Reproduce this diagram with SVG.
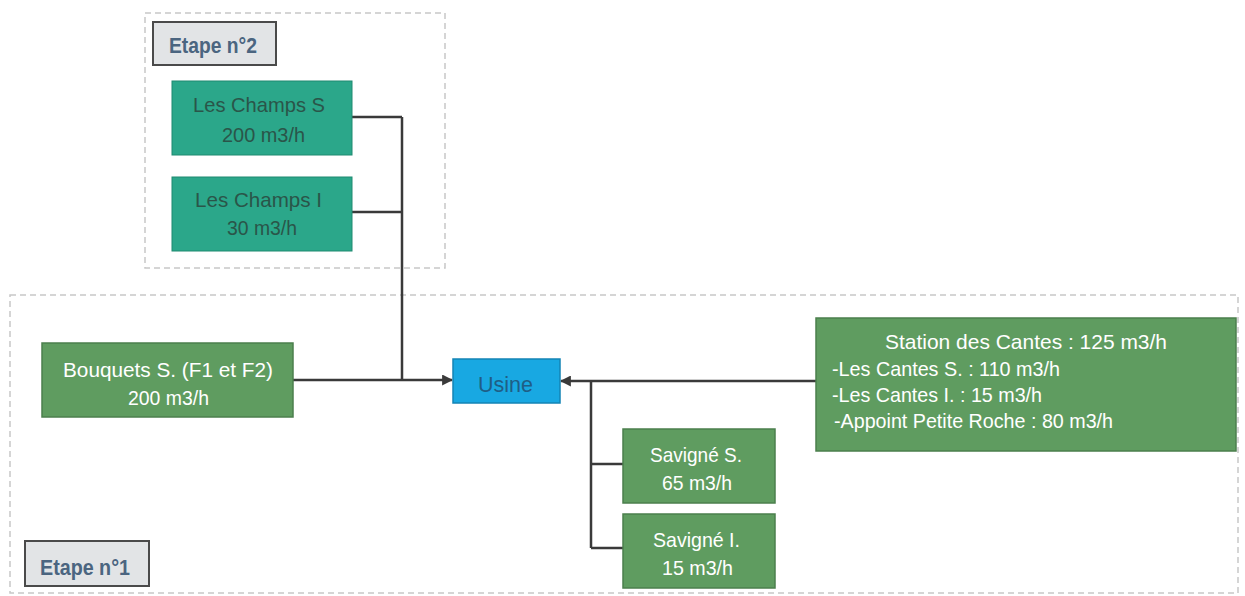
<svg xmlns="http://www.w3.org/2000/svg" width="1245" height="596" viewBox="0 0 1245 596">
<defs>
<marker id="arr" viewBox="0 0 10 10" refX="9" refY="5" markerWidth="11" markerHeight="11" markerUnits="userSpaceOnUse" orient="auto">
<path d="M0,0 L10,5 L0,10 z" fill="#3a3a3a"/>
</marker>
<style>
.zone{fill:none;stroke:#c8c8c8;stroke-width:1.5;stroke-dasharray:6 4}
.lbl{fill:#e2e4e6;stroke:#4a4a4a;stroke-width:2}
.lblt{font-family:"Liberation Sans",Arial,sans-serif;font-weight:bold;font-size:22px;fill:#4b6580}
.teal{fill:#2ba78a;stroke:#1f8a70;stroke-width:1}
.green{fill:#5f9c60;stroke:#4b7f4c;stroke-width:1.5}
.blue{fill:#18a8e2;stroke:#1384b5;stroke-width:1.5}
.tt{font-family:"Liberation Sans",Arial,sans-serif;font-size:21px;fill:#2a5549}
.wt{font-family:"Liberation Sans",Arial,sans-serif;font-size:21px;fill:#ffffff}
.ut{font-family:"Liberation Sans",Arial,sans-serif;font-size:22px;fill:#1f5e86}
.conn{fill:none;stroke:#3a3a3a;stroke-width:2.5}
</style>
</defs>
<rect width="1245" height="596" fill="#ffffff"/>
<g id="zone2">
<rect class="zone" x="145" y="13" width="300" height="255"/>
</g>
<g id="zone1">
<rect class="zone" x="10" y="295" width="1228" height="298"/>
</g>
<g id="connectors">
<path class="conn" d="M352,117 H402 M352,212 H402 M402,117 V380"/>
<path class="conn" d="M293,380 H452" marker-end="url(#arr)"/>
<path class="conn" d="M816,381 H561" marker-end="url(#arr)"/>
<path class="conn" d="M591,381 V548 M591,464 H623 M591,548 H623"/>
</g>
<g id="label-etape2">
<rect class="lbl" x="153" y="22" width="123" height="43"/>
<text class="lblt" x="169" y="53" textLength="88" lengthAdjust="spacingAndGlyphs">Etape n°2</text>
</g>
<g id="label-etape1">
<rect class="lbl" x="25" y="541" width="124" height="45"/>
<text class="lblt" x="40" y="575" textLength="90" lengthAdjust="spacingAndGlyphs">Etape n°1</text>
</g>
<g id="champs-s">
<rect class="teal" x="172" y="81" width="180" height="74"/>
<text class="tt" x="193" y="112" textLength="132" lengthAdjust="spacingAndGlyphs">Les Champs S</text>
<text class="tt" x="222" y="142" textLength="83" lengthAdjust="spacingAndGlyphs">200 m3/h</text>
</g>
<g id="champs-i">
<rect class="teal" x="172" y="177" width="180" height="74"/>
<text class="tt" x="195" y="207" textLength="127" lengthAdjust="spacingAndGlyphs">Les Champs I</text>
<text class="tt" x="227" y="235" textLength="70" lengthAdjust="spacingAndGlyphs">30 m3/h</text>
</g>
<g id="bouquets">
<rect class="green" x="42" y="343" width="251" height="74"/>
<text class="wt" x="63" y="377" textLength="210" lengthAdjust="spacingAndGlyphs">Bouquets S. (F1 et F2)</text>
<text class="wt" x="128" y="405" textLength="81" lengthAdjust="spacingAndGlyphs">200 m3/h</text>
</g>
<g id="usine">
<rect class="blue" x="453" y="359" width="107" height="44"/>
<text class="ut" x="478" y="392" textLength="55" lengthAdjust="spacingAndGlyphs">Usine</text>
</g>
<g id="station-cantes">
<rect class="green" x="816" y="318" width="420" height="133"/>
<text class="wt" x="885" y="349" textLength="282" lengthAdjust="spacingAndGlyphs">Station des Cantes : 125 m3/h</text>
<text class="wt" x="832" y="376" textLength="228" lengthAdjust="spacingAndGlyphs">-Les Cantes S. : 110 m3/h</text>
<text class="wt" x="832" y="402" textLength="210" lengthAdjust="spacingAndGlyphs">-Les Cantes I. : 15 m3/h</text>
<text class="wt" x="834" y="428" textLength="279" lengthAdjust="spacingAndGlyphs">-Appoint Petite Roche : 80 m3/h</text>
</g>
<g id="savigne-s">
<rect class="green" x="623" y="429" width="152" height="74"/>
<text class="wt" x="650" y="462" textLength="92" lengthAdjust="spacingAndGlyphs">Savigné S.</text>
<text class="wt" x="662" y="490" textLength="70" lengthAdjust="spacingAndGlyphs">65 m3/h</text>
</g>
<g id="savigne-i">
<rect class="green" x="623" y="514" width="152" height="74"/>
<text class="wt" x="653" y="547" textLength="87" lengthAdjust="spacingAndGlyphs">Savigné I.</text>
<text class="wt" x="662" y="575" textLength="71" lengthAdjust="spacingAndGlyphs">15 m3/h</text>
</g>
</svg>
